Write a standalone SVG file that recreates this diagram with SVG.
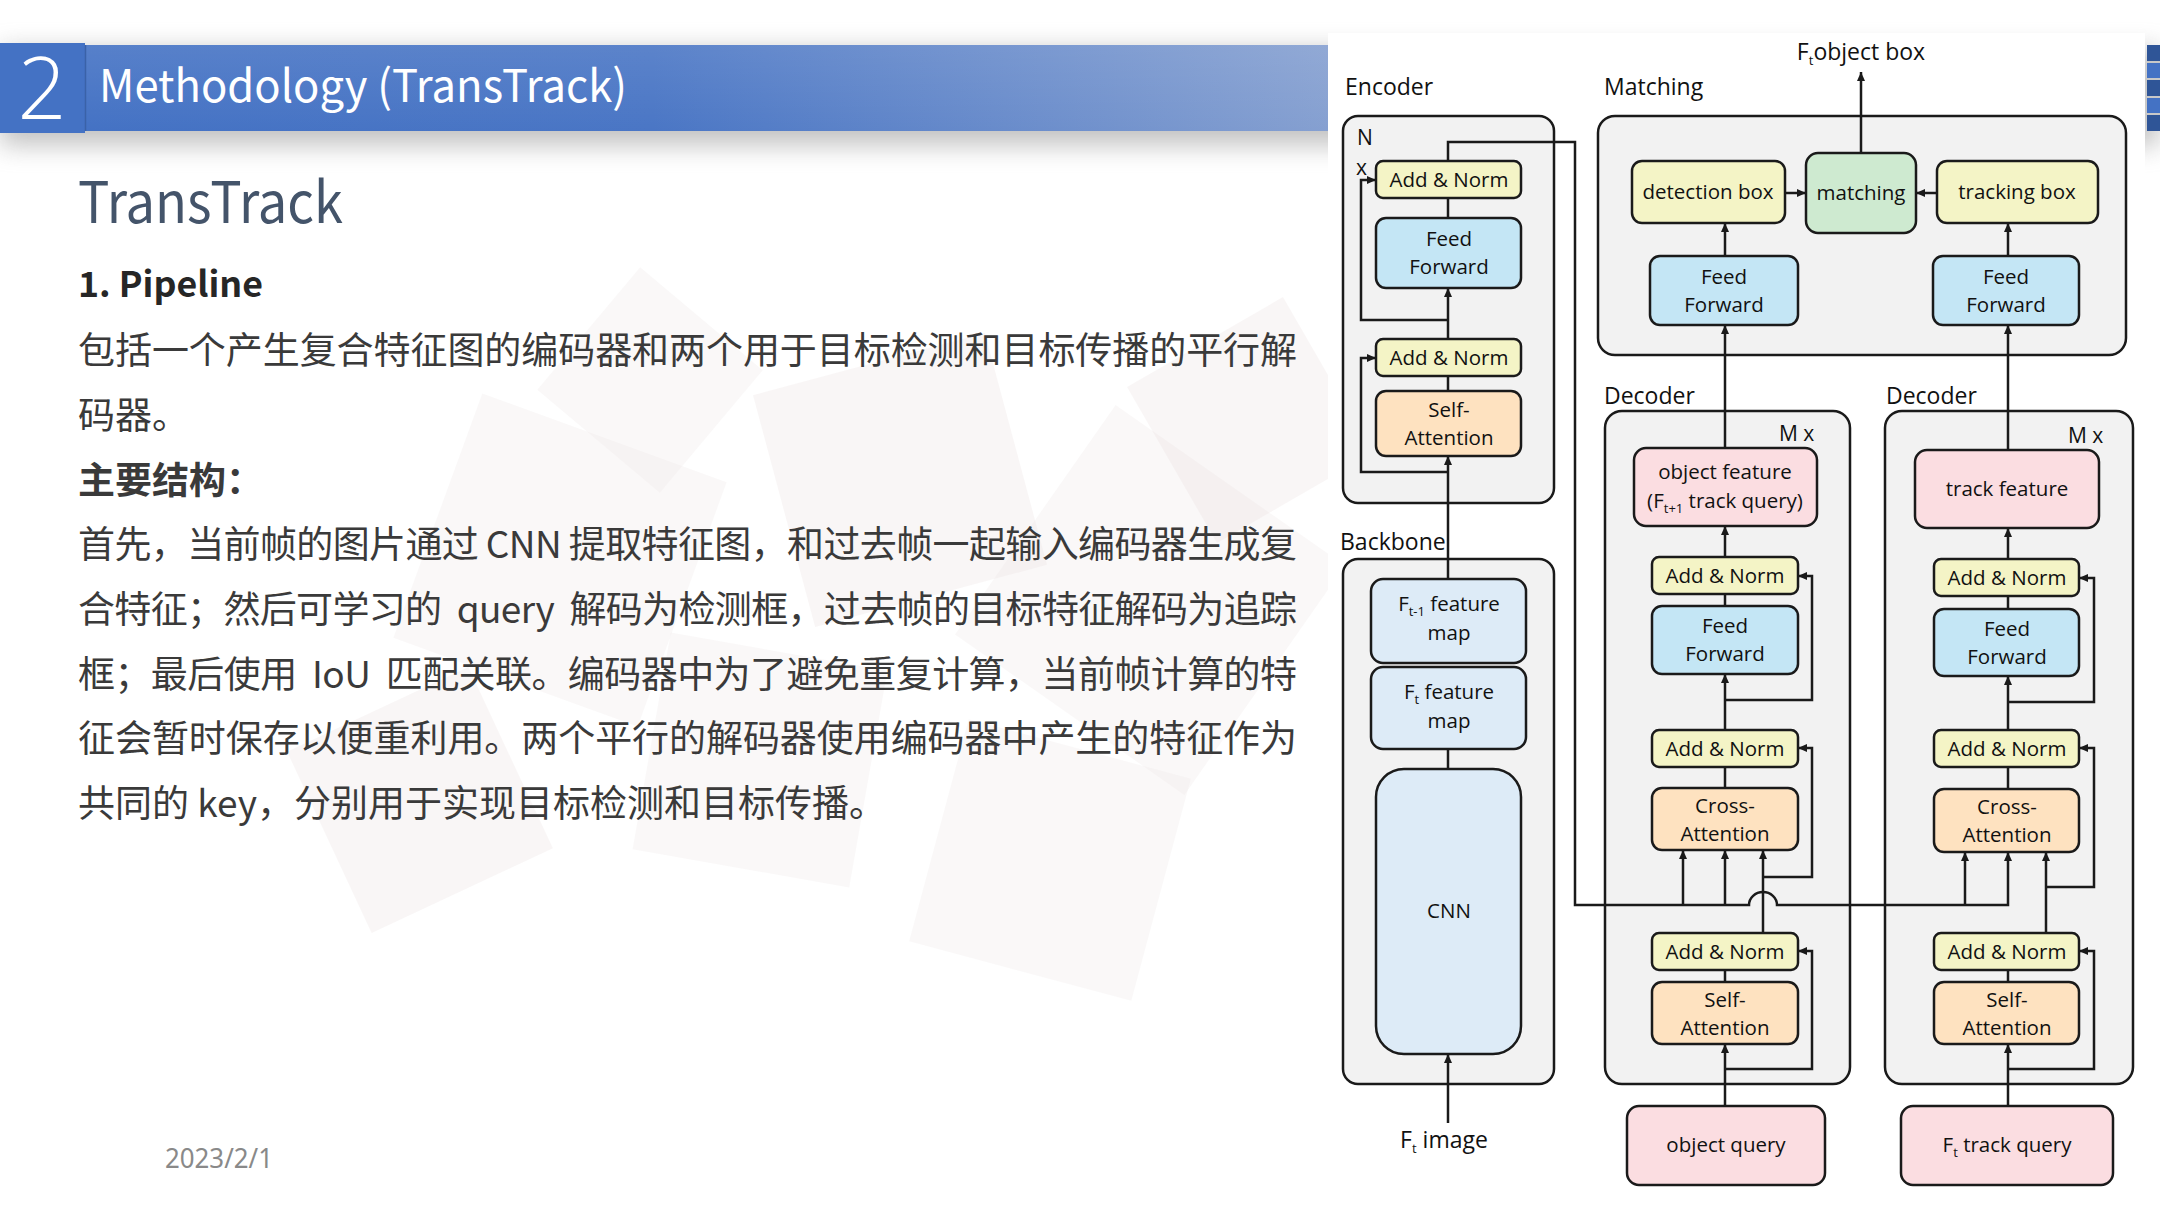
<svg xmlns="http://www.w3.org/2000/svg" width="2160" height="1215" viewBox="0 0 2160 1215">
  <defs>
    <linearGradient id="barGrad" x1="0" y1="0" x2="1" y2="0">
      <stop offset="0" stop-color="#4472C4"/>
      <stop offset="0.45" stop-color="#4A76C5"/>
      <stop offset="1" stop-color="#87A1D1"/>
    </linearGradient>
    <linearGradient id="barSheen" x1="0" y1="0" x2="0" y2="1">
      <stop offset="0" stop-color="#ffffff" stop-opacity="0.10"/>
      <stop offset="1" stop-color="#ffffff" stop-opacity="0"/>
    </linearGradient>
    <filter id="blurShadow" x="-5%" y="-80%" width="110%" height="260%">
      <feGaussianBlur stdDeviation="13"/>
    </filter>
    <marker id="arr" markerUnits="userSpaceOnUse" markerWidth="9" markerHeight="8" refX="9" refY="4" orient="auto">
      <path d="M0,0 L9,4 L0,8 z" fill="#1a1a1a"/>
    </marker>
    <style>
      .grp { fill: #F2F2F2; stroke: #1a1a1a; stroke-width: 2.5; }
      .an  { fill: #F4F4C6; stroke: #1a1a1a; stroke-width: 2.5; }
      .ff  { fill: #C4E6F5; stroke: #1a1a1a; stroke-width: 2.5; }
      .att { fill: #FEE2C0; stroke: #1a1a1a; stroke-width: 2.5; }
      .mt  { fill: #CEEAD0; stroke: #1a1a1a; stroke-width: 2.5; }
      .pk  { fill: #FBDDE1; stroke: #1a1a1a; stroke-width: 2.5; }
      .bb  { fill: #DDEBF7; stroke: #1a1a1a; stroke-width: 2.5; }
      .t   { font-family: "Open Sans", "Liberation Sans", sans-serif; font-size: 20.5px; fill: #111111; text-anchor: middle; }
      .big { font-size: 23px; }
      .lbl { font-family: "Open Sans", "Liberation Sans", sans-serif; font-size: 23px; fill: #111111; }
      .sm  { font-size: 21px; }
      .sub { font-size: 13px; }
      .ln  { fill: none; stroke: #1a1a1a; stroke-width: 2.5; }
      .ar  { fill: none; stroke: #1a1a1a; stroke-width: 2.5; marker-end: url(#arr); }
      .body { font-family: "Noto Sans CJK SC", "Noto Sans", sans-serif; font-size: 37px; fill: #3A3A3A; white-space: pre; }
      .bgs { fill: #EDE6E6; opacity: 0.28; }
      .bgs2 { fill: #E6DADA; opacity: 0.24; }
    </style>
  </defs>

  <!-- slide background -->
  <rect x="0" y="0" width="2160" height="1215" fill="#FFFFFF"/>

  <!-- faint geometric backdrop -->
  <g id="backdrop">
    <rect class="bgs" x="430" y="430" width="260" height="260" transform="rotate(20 560 560)"/>
    <rect class="bgs2" x="780" y="360" width="240" height="240" transform="rotate(-15 900 480)"/>
    <rect class="bgs" x="1010" y="460" width="280" height="280" transform="rotate(35 1150 600)"/>
    <rect class="bgs" x="650" y="650" width="220" height="220" transform="rotate(10 760 760)"/>
    <rect class="bgs2" x="320" y="700" width="200" height="200" transform="rotate(-25 420 800)"/>
    <rect class="bgs" x="935" y="745" width="230" height="230" transform="rotate(15 1050 860)"/>
    <rect class="bgs2" x="1160" y="330" width="180" height="180" transform="rotate(-30 1250 420)"/>
    <rect class="bgs" x="570" y="300" width="160" height="160" transform="rotate(40 650 380)"/>
  </g>

  <!-- header shadow and bar -->
  <rect x="0" y="50" width="2160" height="95" fill="#8f8f8f" opacity="0.55" filter="url(#blurShadow)"/>
  <rect x="86" y="45" width="1260" height="86" fill="url(#barGrad)"/>
  <rect x="86" y="45" width="1260" height="86" fill="url(#barSheen)"/>
  <rect x="0" y="43" width="85" height="90" fill="#4472C4"/>
  <line x1="85.5" y1="45" x2="85.5" y2="131" stroke="#3A62A8" stroke-width="1.5"/>
  <text x="42" y="119" font-family="Open Sans, Noto Sans, sans-serif" font-weight="300" font-size="86" fill="#FFFFFF" text-anchor="middle">2</text>
  <text x="99" y="102" font-family="Noto Sans CJK SC, Noto Sans, sans-serif" font-size="45" fill="#FFFFFF" textLength="528" lengthAdjust="spacingAndGlyphs">Methodology (TransTrack)</text>

  <!-- right edge strip of the header -->
  <g id="edge-strip">
    <rect x="2147" y="45" width="13" height="86" fill="#2F5597"/>
    <rect x="2147" y="63" width="13" height="16" fill="#4472C4"/>
    <rect x="2147" y="97" width="13" height="17" fill="#4472C4"/>
    <rect x="2147" y="61" width="13" height="2" fill="#C8C8C8"/>
    <rect x="2147" y="78" width="13" height="2" fill="#C8C8C8"/>
    <rect x="2147" y="96" width="13" height="2" fill="#C8C8C8"/>
    <rect x="2147" y="113" width="13" height="2" fill="#C8C8C8"/>
  </g>

  <!-- slide text -->
  <text x="78" y="223" font-family="Noto Sans CJK SC, Noto Sans, sans-serif" font-size="57" fill="#44546A" textLength="265" lengthAdjust="spacingAndGlyphs">TransTrack</text>
  <text x="78" y="297" font-family="Noto Sans CJK SC, Noto Sans, sans-serif" font-size="35" font-weight="bold" fill="#262626" textLength="185" lengthAdjust="spacingAndGlyphs">1. Pipeline</text>
  <text class="body" x="78" y="364" textLength="1219" lengthAdjust="spacing">包括一个产生复合特征图的编码器和两个用于目标检测和目标传播的平行解</text>
  <text class="body" x="78" y="429">码器。</text>
  <text class="body" x="78" y="494" font-weight="bold" fill="#262626">主要结构：</text>
  <text class="body" x="78" y="558" textLength="1219" lengthAdjust="spacing">首先，当前帧的图片通过 CNN 提取特征图，和过去帧一起输入编码器生成复</text>
  <text class="body" x="78" y="623" textLength="1219" lengthAdjust="spacing">合特征；然后可学习的  query  解码为检测框，过去帧的目标特征解码为追踪</text>
  <text class="body" x="78" y="688" textLength="1219" lengthAdjust="spacing">框；最后使用  IoU  匹配关联。编码器中为了避免重复计算，当前帧计算的特</text>
  <text class="body" x="78" y="752" textLength="1219" lengthAdjust="spacing">征会暂时保存以便重利用。两个平行的解码器使用编码器中产生的特征作为</text>
  <text class="body" x="78" y="817">共同的 key，分别用于实现目标检测和目标传播。</text>
  <text x="165" y="1168" font-family="Noto Sans, Open Sans, sans-serif" font-size="27" fill="#898989" textLength="108" lengthAdjust="spacingAndGlyphs">2023/2/1</text>

  <!-- architecture figure panel -->
  <rect x="1328" y="33" width="817" height="1182" fill="#FFFFFF"/>

  <!-- section labels -->
  <text class="lbl" x="1345" y="95">Encoder</text>
  <text class="lbl" x="1604" y="95">Matching</text>
  <text class="lbl" x="1340" y="550">Backbone</text>
  <text class="lbl" x="1604" y="404">Decoder</text>
  <text class="lbl" x="1886" y="404">Decoder</text>

  <!-- group frames -->
  <g id="frame-encoder"><rect class="grp" x="1343" y="116" width="211" height="387" rx="15"/>
    <text class="lbl sm" x="1357" y="145">N</text>
    <text class="lbl sm" x="1356" y="175">x</text>
  </g>
  <g id="frame-backbone"><rect class="grp" x="1343" y="559" width="211" height="525" rx="15"/></g>
  <g id="frame-matching"><rect class="grp" x="1598" y="116" width="528" height="239" rx="17"/></g>
  <g id="frame-decoder-det"><rect class="grp" x="1605" y="411" width="245" height="673" rx="17"/>
    <text class="lbl sm" x="1779" y="441">M x</text>
  </g>
  <g id="frame-decoder-trk"><rect class="grp" x="1885" y="411" width="248" height="673" rx="17"/>
    <text class="lbl sm" x="2068" y="443">M x</text>
  </g>

  <!-- connectors -->
  <g id="connectors">
    <!-- encoder -->
    <path class="ar" d="M1448,579 V456"/>
    <path class="ar" d="M1448,472 H1361 V358 H1376"/>
    <path class="ln" d="M1448,391 V376"/>
    <path class="ar" d="M1448,339 V288"/>
    <path class="ar" d="M1448,320 H1361 V180 H1376"/>
    <path class="ln" d="M1448,218 V198"/>
    <!-- encoder memory to both decoders, hopping over the detection path -->
    <path class="ar" d="M1448,161 V142 H1575 V905 H1749 A14,13 0 0 1 1777,905 H2008 V852"/>
    <path class="ar" d="M1683,905 V850"/>
    <path class="ar" d="M1725,905 V850"/>
    <path class="ar" d="M1965,905 V852"/>
    <!-- backbone -->
    <path class="ln" d="M1448,749 V769"/>
    <path class="ar" d="M1448,1123 V1054"/>
    <!-- detection decoder -->
    <path class="ar" d="M1725,1106 V1044"/>
    <path class="ar" d="M1725,1069 H1812 V951 H1798"/>
    <path class="ln" d="M1725,982 V970"/>
    <path class="ar" d="M1763,933 V850"/>
    <path class="ar" d="M1763,877 H1812 V748 H1798"/>
    <path class="ln" d="M1725,788 V767"/>
    <path class="ar" d="M1725,730 V674"/>
    <path class="ar" d="M1725,700 H1812 V576 H1798"/>
    <path class="ln" d="M1725,606 V594"/>
    <path class="ar" d="M1725,557 V526"/>
    <path class="ar" d="M1725,448 V325"/>
    <!-- tracking decoder -->
    <path class="ar" d="M2008,1106 V1044"/>
    <path class="ar" d="M2008,1069 H2094 V951 H2079"/>
    <path class="ln" d="M2008,982 V970"/>
    <path class="ar" d="M2046,933 V852"/>
    <path class="ar" d="M2046,887 H2094 V748 H2079"/>
    <path class="ln" d="M2008,789 V767"/>
    <path class="ar" d="M2008,730 V676"/>
    <path class="ar" d="M2008,702 H2094 V578 H2079"/>
    <path class="ln" d="M2008,609 V596"/>
    <path class="ar" d="M2008,559 V528"/>
    <path class="ar" d="M2008,450 V325"/>
    <!-- matching head -->
    <path class="ar" d="M1725,256 V223"/>
    <path class="ar" d="M2008,256 V223"/>
    <path class="ar" d="M1785,193 H1806"/>
    <path class="ar" d="M1937,193 H1916"/>
    <path class="ar" d="M1861,153 V72"/>
  </g>

  <!-- encoder nodes -->
  <g id="enc-addnorm-2"><rect class="an" x="1376" y="161" width="145" height="37" rx="7"/><text class="t" x="1449" y="187">Add &amp; Norm</text></g>
  <g id="enc-feedforward"><rect class="ff" x="1376" y="218" width="145" height="70" rx="10"/><text class="t" x="1449" y="246">Feed</text><text class="t" x="1449" y="274">Forward</text></g>
  <g id="enc-addnorm-1"><rect class="an" x="1376" y="339" width="145" height="37" rx="7"/><text class="t" x="1449" y="365">Add &amp; Norm</text></g>
  <g id="enc-selfattn"><rect class="att" x="1376" y="391" width="145" height="65" rx="10"/><text class="t" x="1449" y="417">Self-</text><text class="t" x="1449" y="445">Attention</text></g>

  <!-- backbone nodes -->
  <g id="bb-prev-map"><rect class="bb" x="1371" y="579" width="155" height="84" rx="12"/>
    <text class="t" x="1449" y="611">F<tspan class="sub" dy="5">t-1</tspan><tspan dy="-5"> feature</tspan></text>
    <text class="t" x="1449" y="640">map</text></g>
  <g id="bb-cur-map"><rect class="bb" x="1371" y="667" width="155" height="82" rx="12"/>
    <text class="t" x="1449" y="699">F<tspan class="sub" dy="5">t</tspan><tspan dy="-5"> feature</tspan></text>
    <text class="t" x="1449" y="728">map</text></g>
  <g id="bb-cnn"><rect class="bb" x="1376" y="769" width="145" height="285" rx="28"/><text class="t" x="1449" y="918">CNN</text></g>
  <g id="in-image"><text class="t big" x="1444" y="1148">F<tspan class="sub" dy="5">t</tspan><tspan dy="-5"> image</tspan></text></g>

  <!-- matching nodes -->
  <g id="m-detbox"><rect class="an" x="1632" y="161" width="153" height="62" rx="10"/><text class="t" x="1708" y="199">detection box</text></g>
  <g id="m-matching"><rect class="mt" x="1806" y="153" width="110" height="80" rx="12"/><text class="t" x="1861" y="200">matching</text></g>
  <g id="m-trkbox"><rect class="an" x="1937" y="161" width="161" height="62" rx="10"/><text class="t" x="2017" y="199">tracking box</text></g>
  <g id="m-ff-det"><rect class="ff" x="1650" y="256" width="148" height="69" rx="10"/><text class="t" x="1724" y="284">Feed</text><text class="t" x="1724" y="312">Forward</text></g>
  <g id="m-ff-trk"><rect class="ff" x="1933" y="256" width="146" height="69" rx="10"/><text class="t" x="2006" y="284">Feed</text><text class="t" x="2006" y="312">Forward</text></g>
  <g id="out-objbox"><text class="t big" x="1861" y="60">F<tspan class="sub" dy="5">t</tspan><tspan dy="-5">object box</tspan></text></g>

  <!-- detection decoder nodes -->
  <g id="d-objfeat"><rect class="pk" x="1634" y="448" width="183" height="78" rx="12"/>
    <text class="t" x="1725" y="479">object feature</text>
    <text class="t" x="1725" y="508">(F<tspan class="sub" dy="5">t+1</tspan><tspan dy="-5"> track query)</tspan></text></g>
  <g id="d-addnorm-3"><rect class="an" x="1652" y="557" width="146" height="37" rx="7"/><text class="t" x="1725" y="583">Add &amp; Norm</text></g>
  <g id="d-feedforward"><rect class="ff" x="1652" y="606" width="146" height="68" rx="10"/><text class="t" x="1725" y="633">Feed</text><text class="t" x="1725" y="661">Forward</text></g>
  <g id="d-addnorm-2"><rect class="an" x="1652" y="730" width="146" height="37" rx="7"/><text class="t" x="1725" y="756">Add &amp; Norm</text></g>
  <g id="d-crossattn"><rect class="att" x="1652" y="788" width="146" height="62" rx="10"/><text class="t" x="1725" y="813">Cross-</text><text class="t" x="1725" y="841">Attention</text></g>
  <g id="d-addnorm-1"><rect class="an" x="1652" y="933" width="146" height="37" rx="7"/><text class="t" x="1725" y="959">Add &amp; Norm</text></g>
  <g id="d-selfattn"><rect class="att" x="1652" y="982" width="146" height="62" rx="10"/><text class="t" x="1725" y="1007">Self-</text><text class="t" x="1725" y="1035">Attention</text></g>
  <g id="d-objquery"><rect class="pk" x="1627" y="1106" width="198" height="79" rx="12"/><text class="t" x="1726" y="1152">object query</text></g>

  <!-- tracking decoder nodes -->
  <g id="t-trkfeat"><rect class="pk" x="1915" y="450" width="184" height="78" rx="12"/><text class="t" x="2007" y="496">track feature</text></g>
  <g id="t-addnorm-3"><rect class="an" x="1934" y="559" width="145" height="37" rx="7"/><text class="t" x="2007" y="585">Add &amp; Norm</text></g>
  <g id="t-feedforward"><rect class="ff" x="1934" y="609" width="145" height="67" rx="10"/><text class="t" x="2007" y="636">Feed</text><text class="t" x="2007" y="664">Forward</text></g>
  <g id="t-addnorm-2"><rect class="an" x="1934" y="730" width="145" height="37" rx="7"/><text class="t" x="2007" y="756">Add &amp; Norm</text></g>
  <g id="t-crossattn"><rect class="att" x="1934" y="789" width="145" height="63" rx="10"/><text class="t" x="2007" y="814">Cross-</text><text class="t" x="2007" y="842">Attention</text></g>
  <g id="t-addnorm-1"><rect class="an" x="1934" y="933" width="145" height="37" rx="7"/><text class="t" x="2007" y="959">Add &amp; Norm</text></g>
  <g id="t-selfattn"><rect class="att" x="1934" y="982" width="145" height="62" rx="10"/><text class="t" x="2007" y="1007">Self-</text><text class="t" x="2007" y="1035">Attention</text></g>
  <g id="t-trkquery"><rect class="pk" x="1901" y="1106" width="212" height="79" rx="12"/><text class="t" x="2007" y="1152">F<tspan class="sub" dy="5">t</tspan><tspan dy="-5"> track query</tspan></text></g>
</svg>
